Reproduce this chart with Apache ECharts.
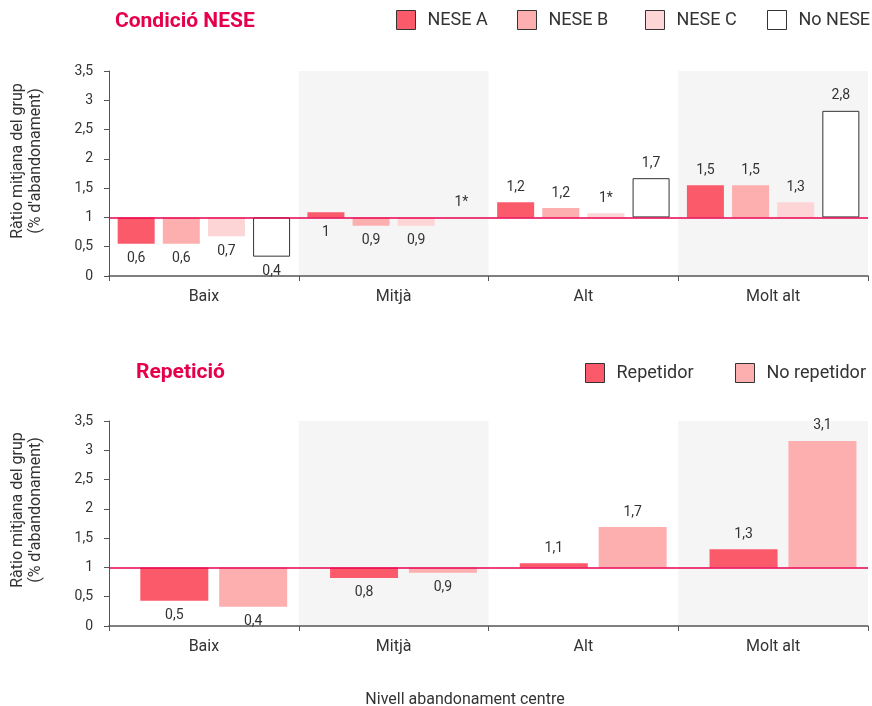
<!DOCTYPE html>
<html>
<head>
<meta charset="utf-8">
<script src="https://cdn.jsdelivr.net/npm/echarts@6/dist/echarts.min.js"></script>
<style>
html,body{margin:0;padding:0;background:#fff;}
#chart{width:872px;height:706px;}
</style>
</head>
<body>
<div id="chart"></div>
<script>
// ---- data ----
const categories = ['Baix', 'Mitjà', 'Alt', 'Molt alt'];

const neseA = [0.55, 1.09, 1.26, 1.55];
const neseB = [0.55, 0.86, 1.16, 1.55];
const neseC = [0.68, 0.86, 1.07, 1.26];
const noNese = [0.33, 1.00, 1.67, 2.82];
const neseALabels = ['0,6', '1', '1,2', '1,5'];
const neseBLabels = ['0,6', '0,9', '1,2', '1,5'];
const neseCLabels = ['0,7', '0,9', '1*', '1,3'];
const noNeseLabels = ['0,4', '1*', '1,7', '2,8'];

const repetidor = [0.43, 0.82, 1.07, 1.31];
const noRepetidor = [0.33, 0.91, 1.69, 3.16];
const repetidorLabels = ['0,5', '0,8', '1,1', '1,3'];
const noRepetidorLabels = ['0,4', '0,9', '1,7', '3,1'];

const yTickMin = 0, yTickMax = 3.5, yTickStep = 0.5;
const reference = 1;

// ---- styling ----
const FONT = 'Roboto, "Noto Sans", sans-serif';
const TXT = '#333333';
const RED = '#e8004f';
const C_A = '#fb5a6a', C_B = '#fdaeae', C_C = '#fdd5d6';

function pair(name, values, labels, gi, color, borderColor, borderWidth, barWidth, barGap, withLine) {
  const stack = 's' + gi + name;
  const base = {
    type: 'bar', name: name + '__base', stack: stack,
    xAxisIndex: gi, yAxisIndex: gi,
    barWidth: barWidth, barGap: barGap,
    silent: true,
    itemStyle: { color: 'rgba(0,0,0,0)' },
    emphasis: { disabled: true },
    data: values.map(v => Math.min(v, reference))
  };
  const vis = {
    type: 'bar', name: name, stack: stack,
    xAxisIndex: gi, yAxisIndex: gi,
    barWidth: barWidth, barGap: barGap,
    itemStyle: { color: color, borderColor: borderColor, borderWidth: borderWidth },
    emphasis: { disabled: true },
    label: {
      show: true, color: TXT, fontSize: 14, fontFamily: FONT, distance: 8,
      formatter: p => labels[p.dataIndex]
    },
    data: values.map((v, i) => {
      const lab = labels[i];
      const below = parseFloat(lab.replace(',', '.')) <= reference && lab.indexOf('*') < 0;
      const h = Math.abs(v - reference);
      const item = { value: h, label: { position: below ? 'bottom' : 'top' } };
      if (h < 0.005) item.itemStyle = { borderWidth: 0 };
      return item;
    })
  };
  if (withLine) {
    vis.markLine = {
      silent: true, symbol: ['none', 'none'], label: { show: false },
      lineStyle: { color: RED, width: 1.5, type: 'solid' },
      emphasis: { disabled: true },
      data: [{ yAxis: reference }]
    };
  }
  return [base, vis];
}

// empty column that reproduces the reference's right-shifted pair of bars
function spacer(gi, barWidth, barGap) {
  return {
    type: 'bar', name: '__spacer' + gi, stack: '__spacer' + gi,
    xAxisIndex: gi, yAxisIndex: gi, barWidth: barWidth, barGap: barGap,
    silent: true, itemStyle: { color: 'rgba(0,0,0,0)' },
    emphasis: { disabled: true },
    data: categories.map(() => 0)
  };
}

const grids = [
  { left: 109, right: 4, top: 71, height: 205 },
  { left: 109, right: 4, top: 421, height: 205 }
];

function xAxis(gi) {
  return {
    type: 'category', gridIndex: gi, data: categories,
    axisLine: { lineStyle: { color: '#555', width: 1.5 } },
    axisTick: { show: true, length: 5, lineStyle: { color: '#555' } },
    axisLabel: { color: TXT, fontSize: 16, fontFamily: FONT, margin: 13 },
    splitArea: { show: true, areaStyle: { color: ['rgba(0,0,0,0)', '#f5f5f5'] } },
    splitLine: { show: false }
  };
}
function yAxis(gi) {
  return {
    type: 'value', gridIndex: gi, min: yTickMin, max: yTickMax, interval: yTickStep,
    axisLine: { show: true, lineStyle: { color: '#555', width: 1 } },
    axisTick: { show: true, length: 5, lineStyle: { color: '#555' } },
    axisLabel: { color: TXT, fontSize: 14, fontFamily: FONT, margin: 16,
      formatter: v => String(v).replace('.', ',') },
    splitLine: { show: false }
  };
}

const series = [].concat(
  pair('NESE A', neseA, neseALabels, 0, C_A, C_A, 0, 37, '22%', false),
  pair('NESE B', neseB, neseBLabels, 0, C_B, C_B, 0, 37, '22%', false),
  pair('NESE C', neseC, neseCLabels, 0, C_C, C_C, 0, 37, '22%', false),
  pair('No NESE', noNese, noNeseLabels, 0, '#ffffff', '#333333', 1, 37, '22%', true),
  [spacer(1, 17, '16%')],
  pair('Repetidor', repetidor, repetidorLabels, 1, C_A, C_A, 0, 68, '16%', false),
  pair('No repetidor', noRepetidor, noRepetidorLabels, 1, C_B, C_B, 0, 68, '16%', true)
);

function legend(name, left, top) {
  return {
    data: [name], left: left, top: top, icon: 'rect',
    itemWidth: 19, itemHeight: 19, padding: 0,
    itemStyle: { borderColor: '#333', borderWidth: 1 },
    textStyle: { color: TXT, fontSize: 18, fontFamily: FONT, padding: [0, 0, 0, 7] },
    selectedMode: false
  };
}

function yName(y) {
  return {
    type: 'text', x: 27, y: y, rotation: Math.PI / 2,
    style: { text: 'Ràtio mitjana del grup\n(% d\'abandonament)', textAlign: 'center', textVerticalAlign: 'middle',
      font: '16px ' + FONT, fill: TXT, lineHeight: 18 }
  };
}

const option = {
  animation: false,
  backgroundColor: '#ffffff',
  grid: grids,
  xAxis: [xAxis(0), xAxis(1)],
  yAxis: [yAxis(0), yAxis(1)],
  legend: [
    legend('NESE A', 396, 10), legend('NESE B', 517, 10), legend('NESE C', 645, 10), legend('No NESE', 767, 10),
    legend('Repetidor', 585, 363), legend('No repetidor', 735, 363)
  ],
  graphic: [
    { type: 'text', x: 115, y: 22, style: { text: 'Condició NESE', textVerticalAlign: 'middle', font: 'bold 21px ' + FONT, fill: '#e6004c' } },
    { type: 'text', x: 136, y: 373, style: { text: 'Repetició', textVerticalAlign: 'middle', font: 'bold 21px ' + FONT, fill: '#e6004c' } },
    yName(161), yName(510),
    { type: 'text', x: 465, y: 700, style: { text: 'Nivell abandonament centre', textAlign: 'center', textVerticalAlign: 'middle', font: '16px ' + FONT, fill: TXT } }
  ],
  series: series
};

const chart = echarts.init(document.getElementById('chart'), null, { renderer: 'canvas' });
chart.setOption(option);
</script>
</body>
</html>
